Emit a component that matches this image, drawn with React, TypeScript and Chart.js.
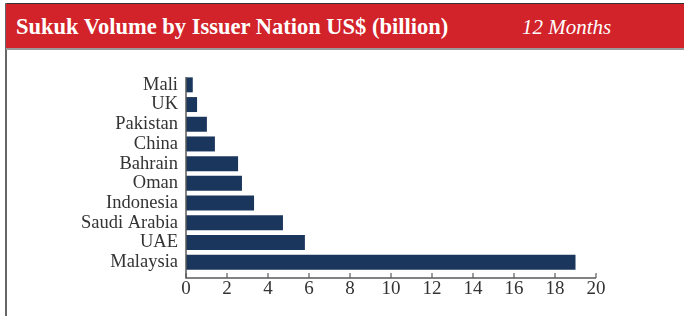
import React, { useEffect, useRef } from "react";
import { Chart, registerables } from "chart.js";

Chart.register(...registerables);

const countries = ["Mali", "UK", "Pakistan", "China", "Bahrain", "Oman", "Indonesia", "Saudi Arabia", "UAE", "Malaysia"];
const volumes = [0.33, 0.54, 1.02, 1.41, 2.54, 2.73, 3.32, 4.73, 5.8, 19.0];
const xTicks = [0, 2, 4, 6, 8, 10, 12, 14, 16, 18, 20];
const titleText = "Sukuk Volume by Issuer Nation US$ (billion)";
const periodText = "12 Months";

const SERIF = "'Liberation Serif', 'Times New Roman', serif";

const axisPlugin = {
  id: "customAxes",
  afterDatasetsDraw(chart: any) {
    const { ctx, chartArea, scales } = chart;
    const x = scales.x;
    const yLine = chartArea.bottom + 6;
    ctx.save();
    ctx.strokeStyle = "#5a5a5a";
    ctx.lineWidth = 1.5;
    ctx.beginPath();
    ctx.moveTo(chartArea.left, chartArea.top + 2);
    ctx.lineTo(chartArea.left, yLine);
    ctx.lineTo(x.getPixelForValue(xTicks[xTicks.length - 1]), yLine);
    ctx.stroke();
    ctx.lineWidth = 1.2;
    xTicks.forEach((t) => {
      const px = x.getPixelForValue(t);
      ctx.beginPath();
      ctx.moveTo(px, yLine);
      ctx.lineTo(px, yLine - 5);
      ctx.stroke();
    });
    ctx.restore();
  },
};

export default function App() {
  const ref = useRef<HTMLCanvasElement>(null);
  useEffect(() => {
    document.body.style.margin = "0";
    const chart = new Chart(ref.current as HTMLCanvasElement, {
      type: "bar",
      data: {
        labels: countries,
        datasets: [
          {
            data: volumes,
            backgroundColor: "#1b365d",
            borderWidth: 0,
            barPercentage: 0.76,
            categoryPercentage: 1,
          },
        ],
      },
      options: {
        indexAxis: "y",
        animation: false,
        responsive: false,
        maintainAspectRatio: false,
        layout: { padding: { top: 25, right: 88, left: 0, bottom: 0 } },
        plugins: { legend: { display: false }, tooltip: { enabled: false } },
        scales: {
          x: {
            min: 0,
            max: 20,
            afterBuildTicks: (axis: any) => {
              axis.ticks = xTicks.map((v) => ({ value: v }));
            },
            afterFit: (axis: any) => {
              axis.height = 44;
            },
            grid: { display: false, drawTicks: false },
            border: { display: false },
            ticks: {
              padding: 6,
              color: "#333",
              font: { family: SERIF, size: 19 },
              maxRotation: 0,
              autoSkip: false,
            },
          },
          y: {
            afterFit: (axis: any) => {
              axis.width = 180;
            },
            grid: { display: false, drawTicks: false },
            border: { display: false },
            ticks: {
              padding: 8,
              color: "#333",
              font: { family: SERIF, size: 18.5 },
              autoSkip: false,
            },
          },
        },
      },
      plugins: [axisPlugin],
    } as any);
    return () => chart.destroy();
  }, []);

  return (
    <div style={{ position: "absolute", left: 0, top: 0, width: 684, height: 316, background: "#fff", overflow: "hidden" }}>
      <div style={{ position: "absolute", left: 5, top: 3, width: 679, height: 1.5, background: "#333" }} />
      <div style={{ position: "absolute", left: 5, top: 3, width: 1.5, height: 313, background: "#666" }} />
      <div style={{ position: "absolute", left: 6, top: 4, width: 678, height: 44, background: "#d2232a" }} />
      <div style={{ position: "absolute", left: 6, top: 48, width: 678, height: 1.5, background: "#9a9a9a" }} />
      <div style={{ position: "absolute", left: 16, top: 4, height: 44, lineHeight: "46px", color: "#fff", fontFamily: SERIF, fontWeight: "bold", fontSize: 22.5, whiteSpace: "nowrap" }}>
        {titleText}
      </div>
      <div style={{ position: "absolute", left: 522, top: 4, height: 44, lineHeight: "46px", color: "#fff", fontFamily: SERIF, fontStyle: "italic", fontSize: 21, whiteSpace: "nowrap" }}>
        {periodText}
      </div>
      <canvas ref={ref} width={678} height={266} style={{ position: "absolute", left: 6, top: 50, width: 678, height: 266 }} />
    </div>
  );
}
